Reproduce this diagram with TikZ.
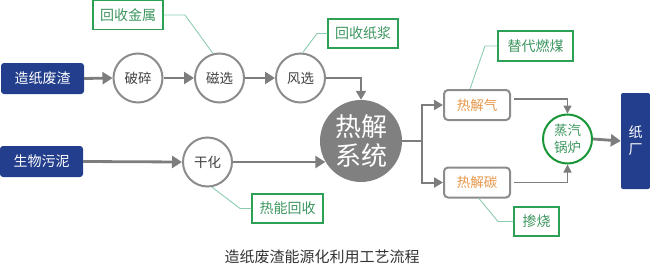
\documentclass[tikz,border=0pt]{standalone}
\usepackage{fontspec}
\setmainfont{Noto Sans CJK SC}
\usetikzlibrary{arrows.meta}
\definecolor{navy}{RGB}{35,62,140}
\definecolor{cgray}{RGB}{140,140,140}
\definecolor{bgray}{RGB}{128,128,128}
\definecolor{agray}{RGB}{125,125,125}
\definecolor{gbox}{RGB}{45,160,85}
\definecolor{gtext}{RGB}{60,150,95}
\definecolor{gline}{RGB}{140,205,175}
\definecolor{otext}{RGB}{232,150,72}
\definecolor{gboil}{RGB}{25,150,55}
\tikzset{
  srcbox/.style={draw=none,fill=navy,rounded corners=3pt,text=white,font=\fontsize{14}{16}\selectfont,minimum width=83pt,minimum height=31pt,inner sep=0pt},
  proc/.style={circle,draw=cgray,line width=2pt,fill=white,minimum size=49pt,inner sep=0pt,text=black!75,font=\fontsize{13.5}{15}\selectfont},
  bigc/.style={circle,fill=bgray,draw=none,minimum size=82pt,inner sep=0pt,text=white,align=center,font=\fontsize{26}{31}\selectfont},
  prod/.style={draw=cgray,line width=2pt,rounded corners=4pt,fill=white,minimum width=66pt,minimum height=30pt,inner sep=0pt,text=otext,font=\fontsize{13.5}{15}\selectfont},
  gbox/.style={draw=gbox,line width=1.5pt,fill=white,minimum height=29pt,inner sep=0pt,text=gtext,font=\fontsize{14}{16}\selectfont},
  boil/.style={circle,draw=gboil,line width=2pt,fill=white,minimum size=49pt,inner sep=0pt,text=gtext,align=center,font=\fontsize{13.5}{17}\selectfont},
  mill/.style={fill=navy,draw=none,rounded corners=2pt,minimum width=29pt,minimum height=96pt,inner sep=0pt,text=white,align=center,font=\fontsize{14}{17}\selectfont},
  thickarr/.style={draw=agray,line width=2.8pt,-{Triangle[length=10pt,width=12pt]}},
  medarr/.style={draw=agray,line width=2pt,-{Triangle[length=9pt,width=10pt]}},
  thinarr/.style={draw=agray,line width=1.4pt,-{Triangle[length=8pt,width=8pt]}},
  note/.style={draw=gline,line width=0.9pt},
}
\begin{document}
\begin{tikzpicture}[x=1pt,y=-1pt]
\useasboundingbox (0,0) rectangle (650,268);
% nodes
\node[srcbox] (zz) at (42.5,78.5) {造纸废渣};
\node[srcbox] (sw) at (41.5,161.5) {生物污泥};
\node[proc] (ps) at (138,78) {破碎};
\node[proc] (cx) at (219.5,78) {磁选};
\node[proc] (fx) at (300.5,78) {风选};
\node[proc] (gh) at (207.5,162) {干化};
\node[bigc] (rj) at (361,141) {热解\\[-2pt]系统};
\node[prod] (qi) at (477,105) {热解气};
\node[prod] (tan) at (477,182.5) {热解碳};
\node[boil] (gl) at (567.5,139) {蒸汽\\锅炉};
\node[mill] (zc) at (635.5,141) {纸\\厂};
\node[gbox,minimum width=70pt] (hj) at (128,15) {回收金属};
\node[gbox,minimum width=70pt] (hz) at (363,33.5) {回收纸浆};
\node[gbox,minimum width=75pt,minimum height=30pt] (td) at (535.5,46) {替代燃煤};
\node[gbox,minimum width=71pt] (rn) at (287.5,208.5) {热能回收};
\node[gbox,minimum width=45pt] (cs) at (536.5,221.5) {掺烧};
\node[text=black!80,font=\fontsize{15}{17}\selectfont] (cap) at (322,257) {造纸废渣能源化利用工艺流程};
% main arrows
\draw[thickarr] (zz.east) -- (ps.west);
\draw[thickarr] (ps.east) -- (cx.west);
\draw[thickarr] (cx.east) -- (fx.west);
\draw[medarr] (fx.east) -| (rj.north);
\draw[thickarr] (sw.east) -- (gh.west);
\draw[thickarr] (gh.east) -- (gh.east -| rj.210);
\coordinate (sp) at (422,141);
\draw[medarr] (rj.east) -- (sp) |- (qi.west);
\draw[medarr] (sp) |- (tan.west);
\draw[thinarr] ([yshift=6pt,xshift=3pt]qi.east) -| (gl.north);
\draw[thinarr] ([xshift=3pt]tan.east) -| (gl.south);
\draw[thickarr] (gl.east) -- (zc.west);
% notes
\draw[note] (hj.east) -- (185,15) -- (cx.105);
\draw[note] (fx.85) -- (317,33.5) -- (hz.west);
\draw[note] (td.west) -- (485,46) -- ([xshift=-7pt]qi.north);
\draw[note] (rn.west) -- (240,208.5) -- (gh.280);
\draw[note] (cs.west) -- (498,221.5) -- ([xshift=2pt]tan.south);
\end{tikzpicture}
\end{document}
